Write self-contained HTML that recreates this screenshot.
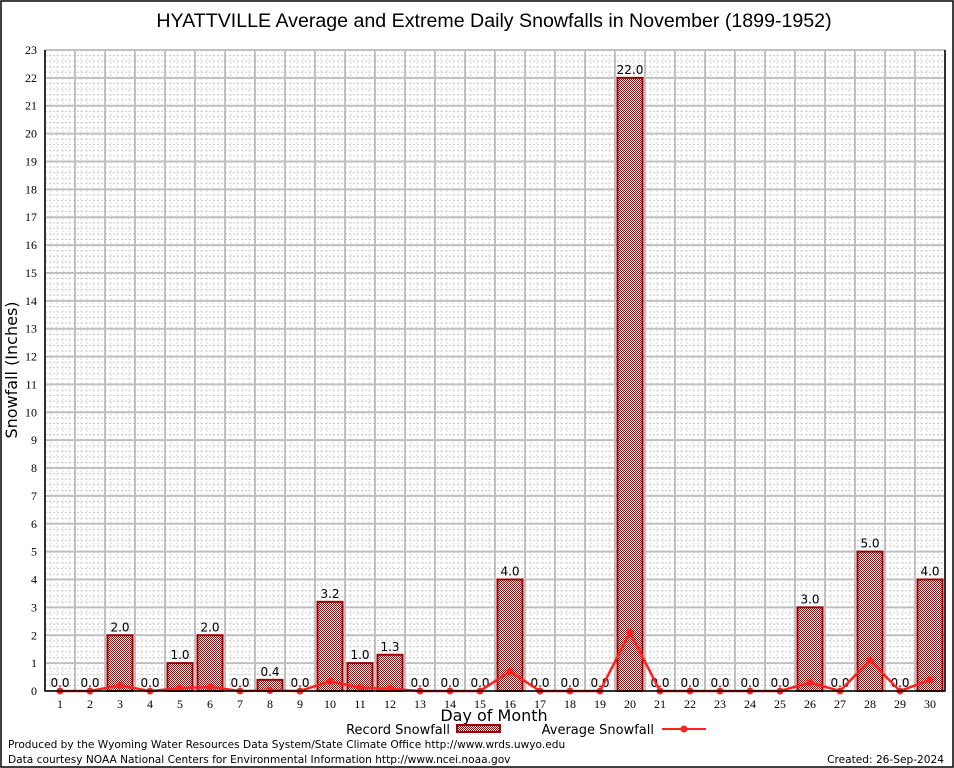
<!DOCTYPE html>
<html><head><meta charset="utf-8"><style>
body{margin:0;background:#fff}
svg{display:block;font-family:"Liberation Sans","DejaVu Sans",sans-serif}
</style></head><body>
<svg id="c" width="954" height="768">
<defs>
<pattern id="chk" width="2" height="2" patternUnits="userSpaceOnUse"><rect width="2" height="2" fill="#fff"/><rect width="1" height="1" fill="#b00000"/><rect x="1" y="1" width="1" height="1" fill="#b00000"/></pattern>
</defs>
<rect x="1" y="1" width="952" height="766" fill="#fff" stroke="#000" stroke-width="1.5"/>
<text x="494" y="27" font-size="19.6" text-anchor="middle">HYATTVILLE Average and Extreme Daily Snowfalls in November (1899-1952)</text>
<g id="grid"></g><g id="bars"></g><g id="line"></g><g id="axes"></g>
<text transform="translate(17,370) rotate(-90)" font-size="16" text-anchor="middle" font-family="DejaVu Sans, sans-serif">Snowfall (Inches)</text>
<text x="494" y="721" font-size="16" text-anchor="middle" font-family="DejaVu Sans, sans-serif">Day of Month</text>
<g font-size="13" font-family="DejaVu Sans, sans-serif">
<text x="450" y="734" text-anchor="end">Record Snowfall</text>
<rect x="457" y="725" width="43" height="7" fill="url(#chk)" stroke="#a00000" stroke-width="2"/>
<text x="654" y="734" text-anchor="end">Average Snowfall</text>
<line x1="662" y1="729" x2="706" y2="729" stroke="#ff2020" stroke-width="2"/>
<circle cx="684" cy="729" r="3.5" fill="#ff2020"/>
</g>
<text x="8" y="748" font-size="10.6" font-family="DejaVu Sans, sans-serif">Produced by the Wyoming Water Resources Data System/State Climate Office http://www.wrds.uwyo.edu</text>
<text x="8" y="763" font-size="10.6" font-family="DejaVu Sans, sans-serif">Data courtesy NOAA National Centers for Environmental Information http://www.ncei.noaa.gov</text>
<text x="944" y="763" font-size="10.6" text-anchor="end" font-family="DejaVu Sans, sans-serif">Created: 26-Sep-2024</text>
</svg>
<script>
const days=[1,2,3,4,5,6,7,8,9,10,11,12,13,14,15,16,17,18,19,20,21,22,23,24,25,26,27,28,29,30];
const recordSnow=[0,0,2.0,0,1.0,2.0,0,0.4,0,3.2,1.0,1.3,0,0,0,4.0,0,0,0,22.0,0,0,0,0,0,3.0,0,5.0,0,4.0];
const avgSnow=[0,0,0.2,0,0.1,0.15,0,0.02,0,0.35,0.12,0.08,0,0,0,0.7,0,0,0,2.1,0,0,0,0,0,0.3,0,1.1,0,0.4];
const yTicks=[0,1,2,3,4,5,6,7,8,9,10,11,12,13,14,15,16,17,18,19,20,21,22,23];
const NS="http://www.w3.org/2000/svg";
const L=45,R=945,T=50,B=691;
const xs=d=>L+(d-0.5)*(R-L)/30;
const ys=v=>B-v*(B-T)/23;
function mk(p,t,a){const e=document.createElementNS(NS,t);for(const k in a)e.setAttribute(k,a[k]);p.appendChild(e);return e;}
const grid=document.getElementById('grid'),bars=document.getElementById('bars'),line=document.getElementById('line'),axes=document.getElementById('axes');
for(let v=0.2;v<23;v+=0.2){if(Math.abs(v-Math.round(v))<0.01)continue;const g=mk(grid,'line',{x1:L,x2:R,y1:ys(v),y2:ys(v),stroke:'#c8c8c8','stroke-width':1,'stroke-dasharray':'2,2'});

}
for(let d=0.5;d<=30.5;d+=0.2){const x=xs(d);const g=mk(grid,'line',{x1:x,x2:x,y1:T,y2:B,stroke:'#d8d8d8','stroke-width':1,'stroke-dasharray':'2,2'});

}
yTicks.forEach(v=>{const g=mk(grid,'line',{x1:L,x2:R,y1:ys(v),y2:ys(v),stroke:'#c0c0c0','stroke-width':2});


const t=mk(axes,'text',{x:L-8,y:ys(v)+4,'font-size':12,'text-anchor':'end','font-family':'Liberation Serif, serif'});t.textContent=v;

});
for(let i=0;i<=30;i++){const x=xs(i+0.5);const g=mk(grid,'line',{x1:x,x2:x,y1:T,y2:B,stroke:'#c0c0c0','stroke-width':2});

}
days.forEach((d,i)=>{const v=recordSnow[i];
if(v>0){const r=mk(bars,'rect',{x:xs(d)-12.5,y:ys(v),width:25,height:ys(0)-ys(v),fill:'url(#chk)',stroke:'#a00000','stroke-width':2});

}
const t=mk(bars,'text',{x:xs(d),y:ys(v)-4,'font-size':12,'text-anchor':'middle','font-family':'DejaVu Sans, sans-serif'});t.textContent=v.toFixed(1);


const xl=mk(axes,'text',{x:xs(d),y:B+17,'font-size':12,'text-anchor':'middle','font-family':'Liberation Serif, serif'});xl.textContent=d;

});
const pl=mk(line,'polyline',{points:days.map((d,i)=>xs(d)+','+ys(avgSnow[i])).join(' '),fill:'none',stroke:'#ff2020','stroke-width':2.5});


days.forEach((d,i)=>{const c=mk(line,'circle',{cx:xs(d),cy:ys(avgSnow[i]),r:3.5,fill:'#ff2020'});

});
const ax=mk(axes,'path',{d:`M${L},${T} L${L},${B} L${R},${B} L${R},${T}`,fill:'none',stroke:'#000','stroke-width':1.5});


</script>
</body></html>
